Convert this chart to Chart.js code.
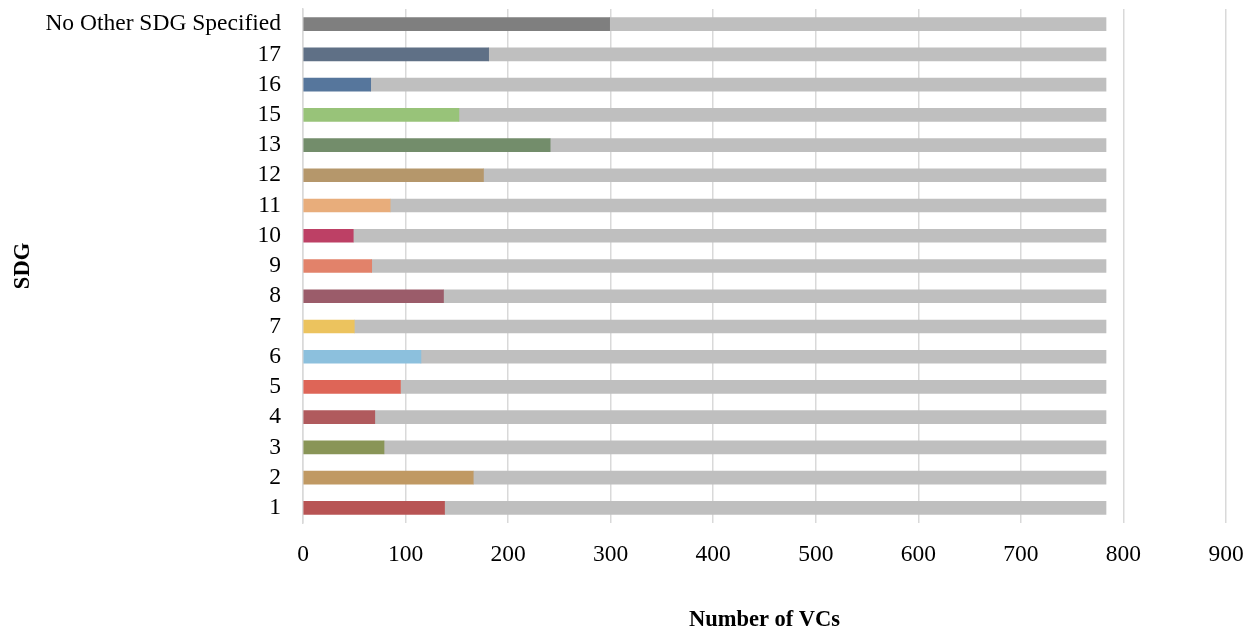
<!DOCTYPE html>
<html>
<head>
<meta charset="utf-8">
<script src="https://cdn.jsdelivr.net/npm/chart.js@4"></script>
<style>
  html, body { margin: 0; padding: 0; background: #fff; }
  #wrap { width: 1255px; height: 634px; }
</style>
</head>
<body>
<div id="wrap"><canvas id="sdgChart"></canvas></div>
<script>
// SDG categories, top to bottom
const sdgLabels = ['No Other SDG Specified', '17', '16', '15', '13', '12', '11', '10', '9', '8', '7', '6', '5', '4', '3', '2', '1'];
// number of VCs per SDG
const vcCounts = [299, 181, 66, 152, 241, 176, 85, 49, 67, 137, 50, 115, 95, 70, 79, 166, 138];
// all VCs in the sample
const totalVCs = 783;
const xTicks = [0, 100, 200, 300, 400, 500, 600, 700, 800, 900];

const sdgColors = ['#7f7f7f', '#5f7086', '#56769c', '#98c379', '#738d6b', '#b5976b', '#e8ad7b',
  '#bd4065', '#e2826a', '#9b5c6a', '#ecc35e', '#8cc0dd', '#de6557', '#b05a5d', '#899557', '#c09963', '#b85454'];

// grey part = rest of the VCs
var remaining = vcCounts.map(v => totalVCs - v);

const fontFam = "'Liberation Serif', 'DejaVu Serif', serif";

let data = {
  labels: sdgLabels,
  datasets: [{
    label: 'VCs',
    data: vcCounts,
    backgroundColor: sdgColors,
    barThickness: 13
  },
  {
    label: 'Other',
    data: remaining,
    backgroundColor: '#bfbfbf',
    barThickness: 13
  }]
};

const config = {
  type: 'bar',
  data,
  options: {
    indexAxis: 'y',
    responsive: true,
    maintainAspectRatio: false,
    animation: false,
    layout: { autoPadding: false, padding: { top: 9, right: 29, left: 10, bottom: 0 } },
    plugins: {
      legend: { display: false },
      tooltip: { enabled: false }
    },
    scales: {
      x: {
        stacked: true,
        min: 0,
        max: 900,
        afterBuildTicks: axis => { axis.ticks = xTicks.map(v => ({ value: v })); },
        afterFit: axis => {
          axis.height = 111;
          axis.paddingLeft = 0;
          axis.paddingRight = 0;
        },
        grid: { color: '#d9d9d9', lineWidth: 1.5, drawTicks: false },
        border: { display: false },
        ticks: { color: '#000', padding: 18, font: { family: fontFam, size: 23.5 } },
        title: {
          display: true,
          text: 'Number of VCs',
          color: '#000',
          padding: { top: 30, bottom: 0 },
          font: { family: fontFam, size: 22.5, weight: 'bold' }
        }
      },
      y: {
        stacked: true,
        afterFit: axis => {
          axis.width = 293;
          // no extra room above/below the first and last label
          axis.paddingTop = 0;
          axis.paddingBottom = 0;
        },
        grid: { display: false, drawTicks: false },
        border: { display: true, color: '#d9d9d9', width: 1.5 },
        ticks: { color: '#000', padding: 22, autoSkip: false, font: { family: fontFam, size: 23.5 } },
        title: {
          display: true,
          text: 'SDG',
          color: '#000',
          padding: { top: 0, bottom: 0 },
          font: { family: fontFam, size: 22.5, weight: 'bold' }
        }
      }
    }
  }
};

const sdgChart = new Chart(document.getElementById('sdgChart'), config);
</script>
</body>
</html>
